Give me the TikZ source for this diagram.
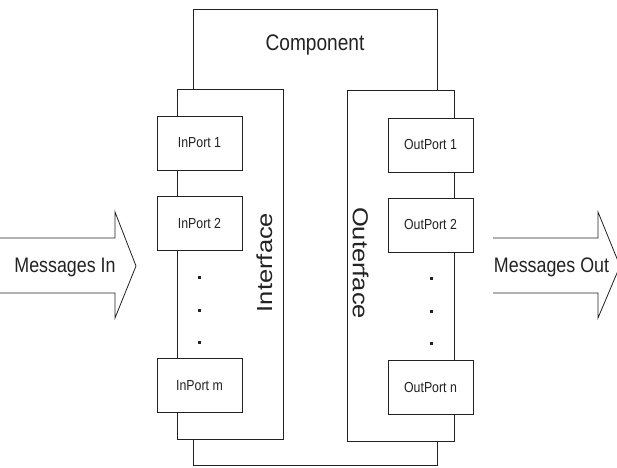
\documentclass[tikz,border=0pt]{standalone}
\usepackage{fontspec}
\usepackage{graphicx}
\setmainfont{Liberation Sans}
\newfontfamily\narrowsans[FakeStretch=0.85]{Liberation Sans}
\definecolor{ink}{HTML}{222222}
\begin{document}
\begin{tikzpicture}[x=1bp,y=-1bp,
  line width=0.8bp, draw=ink,
  box/.style={draw=ink, fill=white, rectangle, inner sep=0pt},
  port/.style={box, minimum width=85bp, minimum height=54bp,
    font=\narrowsans\fontsize{14.5bp}{16bp}\selectfont, text=ink},
  label/.style={inner sep=0pt, text=ink},
  vdot/.style={fill=ink, draw=none, rectangle, minimum size=3bp, inner sep=0pt},
  blockarrow/.style={draw=ink, line width=0.8bp, line join=miter}]
\useasboundingbox (0,0) rectangle (617,468);

% component frame
\node[box, minimum width=244bp, minimum height=456bp] (comp) at (315,237) {};
\node[label, font=\narrowsans\fontsize{22.5bp}{24bp}\selectfont] (comptitle) at (315,45) {Component};

% interface and outerface panels
\node[box, minimum width=106bp, minimum height=350bp] (iface) at (230,264) {};
\node[box, minimum width=107bp, minimum height=351bp] (oface) at (400.5,265.5) {};
\node[label, rotate=90] (ifacelbl) at (264.5,262.5)
  {\scalebox{1}[0.85]{\fontsize{25.5bp}{27bp}\selectfont Interface}};
\node[label, rotate=-90] (ofacelbl) at (360.5,263)
  {\scalebox{1}[0.85]{\fontsize{25.5bp}{27bp}\selectfont Outerface}};

% ports
\node[port] (in1) at (199.5,143) {InPort 1};
\node[port] (in2) at (199.5,223.5) {InPort 2};
\node[port] (inm) at (199.5,385.5) {InPort m};
\node[port] (out1) at (430.5,145) {OutPort 1};
\node[port] (out2) at (430.5,225) {OutPort 2};
\node[port] (outn) at (430.5,387.5) {OutPort n};

% ellipsis dots
\node[vdot] (ind1) at (199,278) {};
\node[vdot] (ind2) at (199,310) {};
\node[vdot] (ind3) at (199,342) {};
\node[vdot] (outd1) at (431,279) {};
\node[vdot] (outd2) at (431,311) {};
\node[vdot] (outd3) at (431.5,343) {};

% incoming messages arrow
\draw[blockarrow] (0,238) -- (115,238) -- (115,212) -- (136,266)
  -- (115,318) -- (115,293) -- (0,293);
\node[label, font=\narrowsans\fontsize{21bp}{23bp}\selectfont] (msgin) at (65,267) {Messages In};

% outgoing messages arrow
\draw[blockarrow] (493,238) -- (598,238) -- (598,212) -- (620,266)
  -- (598,318) -- (598,293) -- (493,293);
\node[label, font=\narrowsans\fontsize{21bp}{23bp}\selectfont] (msgout) at (551.5,267) {Messages Out};
\end{tikzpicture}
\end{document}
